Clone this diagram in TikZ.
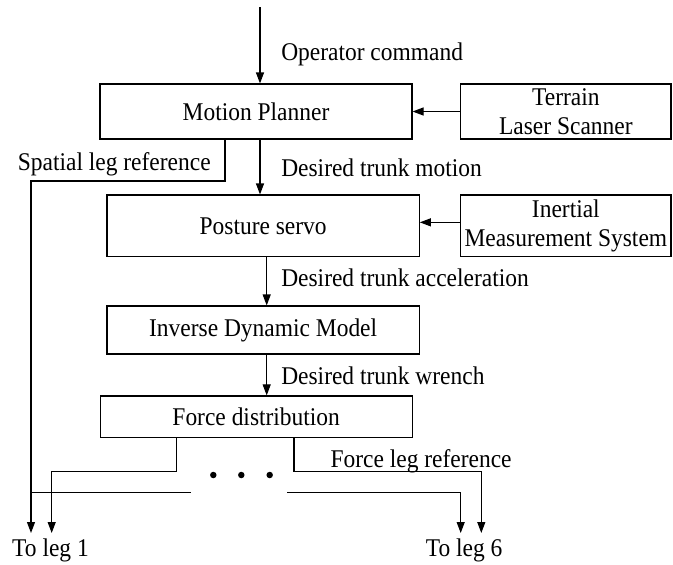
\documentclass[tikz,border=0pt]{standalone}
\usepackage{fontspec}
\setmainfont[FakeStretch=0.92]{Liberation Serif}
\usetikzlibrary{arrows.meta,calc}
\begin{document}
\begin{tikzpicture}[x=1pt,y=-1pt,
  line width=1.1pt,
  every node/.style={font=\fontsize{25.5}{28.5}\selectfont},
  blk/.style={draw,inner sep=0pt,align=center},
  lbl/.style={inner sep=0pt,anchor=base west},
  arr/.style={-{Triangle[length=11pt,width=8pt]}},
  dotmark/.style={fill,circle,inner sep=0pt,minimum size=6.5pt}]
\useasboundingbox (0,0) rectangle (673,565);
% blocks
\node[blk,minimum width=312pt,minimum height=55pt] (MP) at (256,111.5) {Motion Planner};
\node[blk,minimum width=210.3pt,minimum height=55pt] (TL) at (565.85,111.5) {Terrain\\Laser Scanner};
\node[blk,minimum width=312.3pt,minimum height=61.7pt] (PS) at (263.15,225.85) {Posture servo};
\node[blk,minimum width=210.3pt,minimum height=61.7pt] (IM) at (565.85,225.85) {Inertial\\Measurement System};
\node[blk,minimum width=312.3pt,minimum height=48pt] (ID) at (263.15,330) {Inverse Dynamic Model};
\node[blk,minimum width=312.3pt,minimum height=41.3pt] (FD) at (256.2,416.6) {Force distribution};
% labels
\node[lbl] (l1) at (280.7,60) {Operator command};
\node[lbl] (l2) at (280.7,176.7) {Desired trunk motion};
\node[lbl] (l3) at (280.7,286.7) {Desired trunk acceleration};
\node[lbl] (l4) at (280.7,384) {Desired trunk wrench};
\node[lbl] (l5) at (17.3,170) {Spatial leg reference};
\node[lbl] (l6) at (330,467.3) {Force leg reference};
\node[inner sep=0pt,anchor=base west] (leg1) at (11.7,556) {To leg 1};
\node[inner sep=0pt,anchor=base east] (leg6) at (503,556) {To leg 6};
% dots
\node[dotmark] (d1) at (213.3,475) {};
\node[dotmark] (d2) at (241.3,475) {};
\node[dotmark] (d3) at (269.7,475) {};
% coordinates
\coordinate (top) at (260,7);
\coordinate (cB) at (266.7,0);
\coordinate (sp) at (225,0);
\coordinate (e1) at (31,533);
\coordinate (e2) at (51.7,533);
\coordinate (e5) at (460.7,533);
\coordinate (e6) at (481.3,533);
\coordinate (fl) at (176.7,0);
\coordinate (fr) at (294,0);
% connectors
\draw[arr] (top) -- (top |- MP.north);
\draw[arr] (TL.west) -- (MP.east);
\draw[arr] ($(IM.west)+(0,-3.5)$) coordinate (ia) -- (ia -| PS.east);
\draw[arr] (top |- MP.south) -- (top |- PS.north);
\draw[arr] (cB |- PS.south) -- (cB |- ID.north);
\draw[arr] (cB |- ID.south) -- (cB |- FD.north);
% spatial leg reference
\draw[arr] (sp |- MP.south) -- (225,181) -- (31,181) -- (e1);
\draw (31,492.7) -- (190.7,492.7);
\draw[arr] (287.3,492.7) -- (460.7,492.7) -- (e5);
% force leg reference
\draw[arr] (fl |- FD.south) -- (176.7,471.7) -- (51.7,471.7) -- (e2);
\draw[arr] (fr |- FD.south) -- (294,471.7) -- (481.3,471.7) -- (e6);
\end{tikzpicture}
\end{document}
